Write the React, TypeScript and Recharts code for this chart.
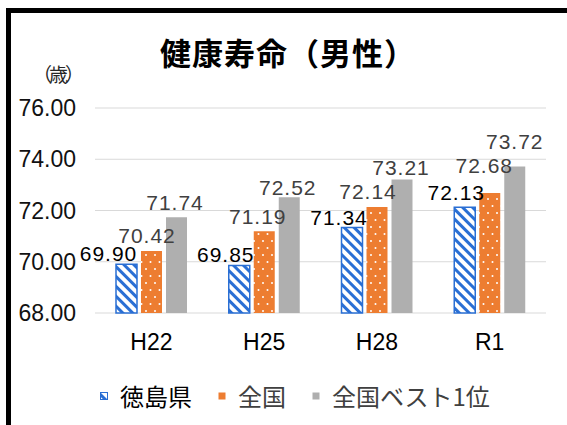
import { BarChart, Bar, XAxis, YAxis, CartesianGrid, LabelList } from 'recharts'

const categories = ['H22', 'H25', 'H28', 'R1']
const tokushima = [69.9, 69.85, 71.34, 72.13]
const national = [70.42, 71.19, 72.14, 72.68]
const nationalBest = [71.74, 72.52, 73.21, 73.72]
const yTicks = [68, 70, 72, 74, 76]

const BLUE = '#2a6fd4'
const ORANGE = '#ed7d31'
const GRAY = '#afafaf'
const NUM_FONT = '"Liberation Sans", Arial, sans-serif'
const JP_FONT = '"Noto Sans CJK JP", sans-serif'

// label nudges (dx, dy from bar top centre), as Excel placed them
const labelNudge: Record<string, [number, number][]> = {
  tokushima: [[-18, -11], [-13.5, -11], [-13, -10], [-8.5, -15]],
  national: [[-4.5, -15], [-6.5, -15], [-9, -15], [-5.5, -28]],
  best: [[-1.5, -15], [-1.5, -10], [-1, -12], [0, -25]],
}

const data = categories.map((name, i) => ({
  name,
  tokushima: tokushima[i],
  national: national[i],
  best: nationalBest[i],
}))

const makeLabel = (key: string, color: string) => (props: any) => {
  const { x, y, width, value, index } = props
  const [dx, dy] = labelNudge[key][index]
  return (
    <text
      x={x + width / 2 + dx}
      y={y + dy}
      textAnchor="middle"
      dominantBaseline="central"
      fill={color}
      fontSize={21}
      letterSpacing={1}
      fontFamily={NUM_FONT}
    >
      {Number(value).toFixed(2)}
    </text>
  )
}

const LegendItem = ({ fill, label, color, stroke }: any) => (
  <div style={{ display: 'flex', alignItems: 'center', marginRight: 26 }}>
    <svg width={8} height={8} style={{ marginRight: 12 }}>
      <rect x={0.5} y={0.5} width={7} height={7} fill={fill} stroke={stroke || 'none'} strokeWidth={1} />
    </svg>
    <span style={{ color, fontSize: 24, fontFamily: JP_FONT, lineHeight: '24px' }}>{label}</span>
  </div>
)

export default function App() {
  return (
    <div style={{ position: 'absolute', left: 0, top: 0, width: 567, height: 425, background: '#fff', overflow: 'hidden' }}>
      <svg width={0} height={0} style={{ position: 'absolute' }}>
        <defs>
          <pattern id="hatchBlue" patternUnits="userSpaceOnUse" width={7} height={7} patternTransform="rotate(45)">
            <rect width={7} height={7} fill="#fff" />
            <rect width={7} height={3} fill={BLUE} />
          </pattern>
          <pattern id="dotsOrange" patternUnits="userSpaceOnUse" width={9} height={14}>
            <rect width={9} height={14} fill={ORANGE} />
            <circle cx={2} cy={3} r={1} fill="#fff" />
            <circle cx={6.5} cy={10} r={1} fill="#fff" />
          </pattern>
        </defs>
      </svg>

      <div style={{ position: 'absolute', left: 6, top: 8, width: 561, height: 5, background: '#000' }} />
      <div style={{ position: 'absolute', left: 6, top: 8, width: 5, height: 417, background: '#000' }} />

      <div
        style={{
          position: 'absolute', left: 0, width: 576, top: 32, textAlign: 'center',
          fontFamily: JP_FONT, fontWeight: 700, fontSize: 31, lineHeight: '40px', color: '#000',
          letterSpacing: 1,
        }}
      >
        健康寿命（男性）
      </div>
      <div
        style={{
          position: 'absolute', left: 33, top: 61, fontFamily: JP_FONT,
          fontSize: 19, lineHeight: '26px', color: '#262626', letterSpacing: -3,
        }}
      >
        （歳）
      </div>

      <div style={{ position: 'absolute', left: 0, top: 0 }}>
        <BarChart
          width={567}
          height={425}
          data={data}
          margin={{ top: 108, right: 21, bottom: 72, left: 0 }}
          barSize={21}
          barGap={4}
        >
          <CartesianGrid vertical={false} stroke="#d9d9d9" strokeWidth={1} />
          <XAxis
            dataKey="name"
            height={40}
            axisLine={false}
            tickLine={false}
            tickSize={0}
            tickMargin={21}
            tick={{ fill: '#000', fontSize: 23, fontFamily: NUM_FONT }}
          />
          <YAxis
            width={95}
            domain={[68, 76]}
            ticks={yTicks}
            axisLine={false}
            tickLine={false}
            tickSize={0}
            tickMargin={19}
            tickFormatter={(v: number) => v.toFixed(2)}
            tick={{ fill: '#111', fontSize: 23, fontFamily: NUM_FONT }}
          />
          <Bar dataKey="tokushima" fill="url(#hatchBlue)" stroke={BLUE} strokeWidth={1.5} isAnimationActive={false}>
            <LabelList dataKey="tokushima" content={makeLabel('tokushima', '#000')} />
          </Bar>
          <Bar dataKey="national" fill="url(#dotsOrange)" isAnimationActive={false}>
            <LabelList dataKey="national" content={makeLabel('national', '#404040')} />
          </Bar>
          <Bar dataKey="best" fill={GRAY} isAnimationActive={false}>
            <LabelList dataKey="best" content={makeLabel('best', '#404040')} />
          </Bar>
        </BarChart>
      </div>

      <div
        style={{
          position: 'absolute', left: 100, top: 384, display: 'flex', alignItems: 'center',
        }}
      >
        <LegendItem fill="url(#hatchBlue)" stroke={BLUE} label="徳島県" color="#000" />
        <LegendItem fill={ORANGE} label="全国" color="#404040" />
        <LegendItem fill={GRAY} label="全国ベスト1位" color="#404040" />
      </div>
    </div>
  )
}
